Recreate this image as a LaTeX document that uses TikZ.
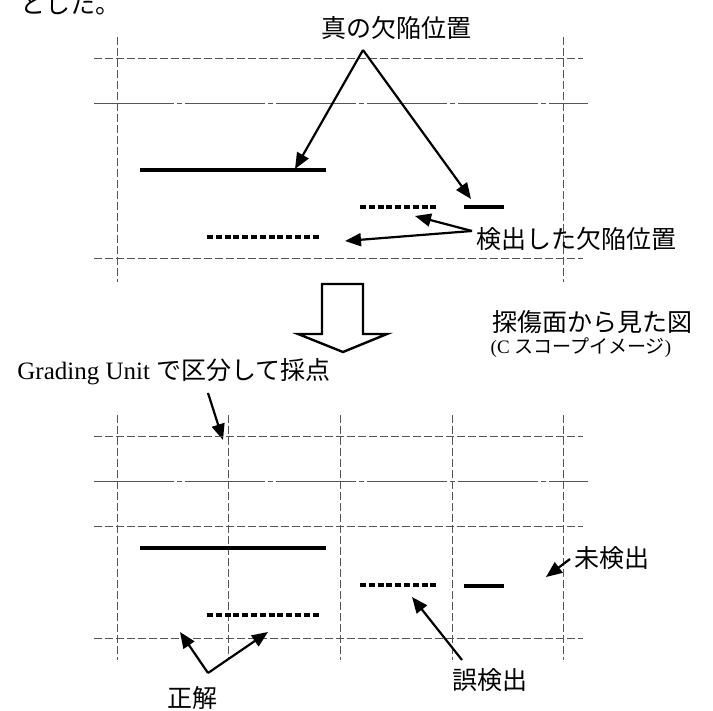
\documentclass[tikz,border=0pt]{standalone}
\usepackage{fontspec}
\setmainfont{Liberation Serif}
\newfontfamily\jp{Noto Sans CJK JP}
\usetikzlibrary{arrows.meta}
\definecolor{gridgray}{RGB}{85,85,85}
\tikzset{
  gridline/.style={draw=gridgray, line width=1pt, dash pattern=on 8pt off 3pt},
  dashdot/.style={draw=gridgray, line width=1pt, dash pattern=on 80pt off 3pt on 5pt off 3pt},
  truedef/.style={draw=black, line width=3.4pt},
  detdef/.style={draw=black, line width=3.4pt, dash pattern=on 6pt off 2.8pt},
  pointer/.style={draw=black, line width=2.2pt, -{Triangle[length=16pt,width=13pt]}},
  lbl/.style={font=\fontsize{25}{30}\selectfont, inner sep=0pt},
  smalllbl/.style={font=\fontsize{19}{22}\selectfont, inner sep=0pt},
  hollow/.style={draw=black, line width=2.4pt, fill=white, line join=miter}
}
\begin{document}
\begin{tikzpicture}[x=1pt,y=-1pt]
\useasboundingbox (0,0) rectangle (713,711);

% top-left text (clipped at top, as in the reference)
\node[lbl, anchor=west] (prev) at (20,4) {\jp とした。};

% ---------- top grid ----------
\draw[gridline] (117,37) -- (117,282);
\draw[gridline] (563,37) -- (563,282);
\draw[gridline] (94,59) -- (583,59);
\draw[dashdot] (94,104) -- (588,104);
\draw[gridline] (94,259) -- (583,259);

% defects (top)
\draw[truedef] (140,170) -- (326,170);
\draw[truedef] (464,207) -- (504,207);
\draw[detdef] (207,237) -- (320,237);
\draw[detdef] (360,207) -- (437,207);

% labels and pointers (top)
\node[lbl] (truelbl) at (396,28) {\jp 真の欠陥位置};
\coordinate (apexA) at (363,50);
\coordinate (tipA1) at (295,169);
\coordinate (tipA2) at (471,199);
\draw[pointer] (apexA) -- (tipA1);
\draw[pointer] (apexA) -- (tipA2);

\node[lbl] (detlbl) at (576,239) {\jp 検出した欠陥位置};
\coordinate (apexB) at (472,231);
\coordinate (tipB1) at (415,216);
\coordinate (tipB2) at (345,241);
\draw[pointer] (apexB) -- (tipB1);
\draw[pointer] (apexB) -- (tipB2);

% big hollow arrow
\draw[hollow] (322,284) -- (363,284) -- (363,334) -- (387,334) -- (343,352) -- (298,334) -- (322,334) -- cycle;

\node[lbl] (viewlbl) at (592,322) {\jp 探傷面から見た図};
\node[smalllbl] (cscan) at (581,348) {(C {\jp スコープイメージ})};

\node[lbl] (gulbl) at (174,372) {Grading Unit {\jp で区分して採点}};
\coordinate (guA) at (208,393);
\coordinate (guB) at (223,440);
\draw[pointer] (guA) -- (guB);

% ---------- bottom grid ----------
\foreach \xx in {117,228,340,452,563} \draw[gridline] (\xx,415) -- (\xx,660);
\draw[gridline] (94,437) -- (583,437);
\draw[dashdot] (94,482) -- (588,482);
\draw[gridline] (94,527) -- (583,527);
\draw[gridline] (94,638) -- (583,638);

% defects (bottom)
\draw[truedef] (140,548) -- (326,548);
\draw[truedef] (464,586) -- (504,586);
\draw[detdef] (207,615) -- (320,615);
\draw[detdef] (360,585) -- (437,585);

% labels (bottom)
\node[lbl] (oklbl) at (192,698) {\jp 正解};
\coordinate (apexC) at (208,673);
\coordinate (tipC1) at (180,632);
\coordinate (tipC2) at (268,632);
\draw[pointer] (apexC) -- (tipC1);
\draw[pointer] (apexC) -- (tipC2);

\node[lbl] (falselbl) at (490,680) {\jp 誤検出};
\coordinate (startD) at (462,660);
\coordinate (tipD) at (412,597);
\draw[pointer] (startD) -- (tipD);

\node[lbl] (misslbl) at (612,558) {\jp 未検出};
\coordinate (startE) at (570,559);
\coordinate (tipE) at (546,577);
\draw[pointer] (startE) -- (tipE);
\end{tikzpicture}
\end{document}
